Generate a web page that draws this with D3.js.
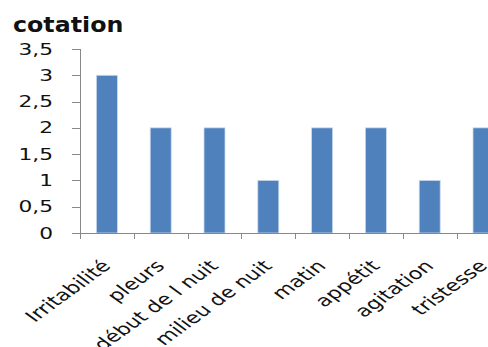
<!DOCTYPE html>
<html>
<head>
<meta charset="utf-8">
<script src="https://cdn.jsdelivr.net/npm/d3@7"></script>
<style>
  html, body { margin: 0; padding: 0; background: #fff; }
  svg { display: block; }
  text { font-family: "DejaVu Sans", sans-serif; fill: #111; }
</style>
</head>
<body>
<svg id="chart" width="488" height="347"></svg>
<script>
// Scores per symptom
const categories = ["Irritabilité", "pleurs", "début de l nuit", "milieu de nuit", "matin", "appétit", "agitation", "tristesse"];
const values = [3, 2, 2, 1, 2, 2, 1, 2];
const yTicks = [0, 0.5, 1, 1.5, 2, 2.5, 3, 3.5];
const title = "cotation";

(function () {
const svg = d3.select("#chart");
const stretch = 1.45;      // horizontal widening of the axis numbers
const labelStretch = 1.38; // horizontal widening of the slanted category names

const plotLeft = 80, plotBottom = 233, plotTop = 49;
const x = d3.scaleBand().domain(categories).range([plotLeft, plotLeft + 8 * 53.8]).paddingInner(0.61).paddingOuter(0.305);
const xEdge = d3.scaleBand().domain(categories).range([plotLeft, plotLeft + 8 * 53.8]);
const y = d3.scaleLinear().domain([0, 3.5]).range([plotBottom, plotTop]);
const fmt = v => String(v).replace(".", ",");

// Title
svg.append("text")
  .attr("transform", `translate(13,32) scale(1.13,1)`)
  .attr("font-size", 21).attr("font-weight", "bold")
  .text(title);

// Bars
svg.selectAll("rect.bar").data(values).join("rect")
  .attr("class", "bar")
  .attr("x", (d, i) => x(categories[i]))
  .attr("width", x.bandwidth())
  .attr("y", d => y(d))
  .attr("height", d => y(0) - y(d))
  .attr("fill", "#4F81BD")
  .attr("stroke", "#c9d8ec").attr("stroke-width", 0.8);

const axisColor = "#888";

// Y axis line and ticks
svg.append("line").attr("x1", plotLeft + 0.5).attr("x2", plotLeft + 0.5)
  .attr("y1", y(3.5)).attr("y2", y(0)).attr("stroke", axisColor);
svg.selectAll("line.yt").data(yTicks).join("line")
  .attr("class", "yt")
  .attr("x1", plotLeft - 8).attr("x2", plotLeft)
  .attr("y1", d => Math.round(y(d)) + 0.5).attr("y2", d => Math.round(y(d)) + 0.5)
  .attr("stroke", axisColor);
svg.selectAll("text.yl").data(yTicks).join("text")
  .attr("class", "yl")
  .attr("transform", d => `translate(53,${y(d) + 5.5}) scale(${stretch},1)`)
  .attr("text-anchor", "end").attr("font-size", 15)
  .text(fmt);

// X axis line and ticks
svg.append("line").attr("x1", plotLeft - 8).attr("x2", 520)
  .attr("y1", plotBottom + 0.5).attr("y2", plotBottom + 0.5).attr("stroke", axisColor);
const edges = categories.map(c => xEdge(c)).concat([xEdge.range()[1]]);
svg.selectAll("line.xt").data(edges).join("line")
  .attr("class", "xt")
  .attr("x1", d => Math.round(d) + 0.5).attr("x2", d => Math.round(d) + 0.5)
  .attr("y1", plotBottom).attr("y2", plotBottom + 6)
  .attr("stroke", axisColor);

// Slanted category labels
svg.selectAll("text.xl").data(categories).join("text")
  .attr("class", "xl")
  .attr("transform", c => `translate(${xEdge(c) + xEdge.bandwidth() / 2 + 5},267) scale(${labelStretch},1) rotate(-45)`)
  .attr("text-anchor", "end").attr("font-size", 16.3)
  .text(c => c);
})();
</script>
</body>
</html>
